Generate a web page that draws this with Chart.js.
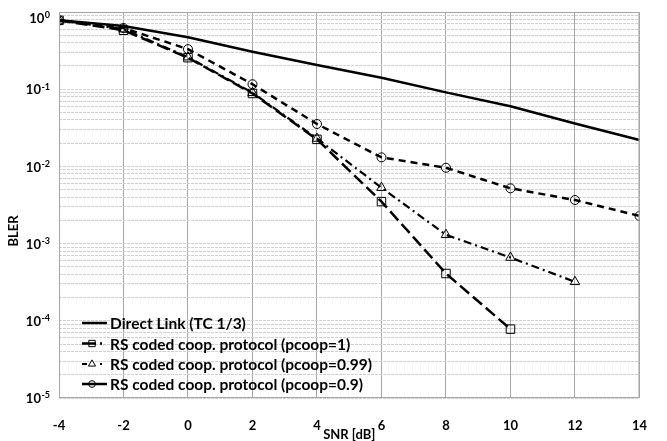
<!DOCTYPE html>
<html>
<head>
<meta charset="utf-8">
<script src="https://cdn.jsdelivr.net/npm/chart.js@4"></script>
<style>
  html, body { margin: 0; padding: 0; background: #fff; }
  #wrap { width: 667px; height: 441px; }
</style>
</head>
<body>
<div id="wrap"><canvas id="c" width="667" height="441"></canvas></div>
<script>
// ===== Data =====
const snr = [-4, -2, 0, 2, 4, 6, 8, 10, 12, 14];
const directLink = [0.78, 0.66, 0.47, 0.306, 0.206, 0.141, 0.091, 0.060, 0.036, 0.022];
const pcoop1     = [0.78, 0.58, 0.256, 0.088, 0.0224, 0.0035, 0.00041, 0.000078];
const pcoop099   = [0.78, 0.60, 0.26, 0.09, 0.023, 0.0053, 0.0013, 0.00066, 0.00032];
const pcoop09    = [0.78, 0.62, 0.33, 0.116, 0.0354, 0.0131, 0.0096, 0.0052, 0.00367, 0.00228];

const seriesLabels = [
  "Direct Link (TC 1/3)",
  "RS coded coop. protocol (pcoop=1)",
  "RS coded coop. protocol (pcoop=0.99)",
  "RS coded coop. protocol (pcoop=0.9)"
];
const xTicks = [-4, -2, 0, 2, 4, 6, 8, 10, 12, 14];
const yDecades = [0, -1, -2, -3, -4, -5];   // 10^0 ... 10^-5
const xTitle = "SNR [dB]";
const yTitle = "BLER";

const FONT = "Lato, 'Open Sans', sans-serif";

function pts(ys) {
  return ys.map((y, i) => ({ x: snr[i], y: y }));
}

// all log ticks 1..9 x 10^k for grid lines
const yAllTicks = [];
for (let e = -5; e <= 0; e++) {
  for (let m = 1; m <= 9; m++) {
    const v = m * Math.pow(10, e);
    if (v <= 1.0000001) yAllTicks.push({ value: v });
  }
}

const transparent = "rgba(0,0,0,0)";

// ===== plugin: frame, y tick labels, axis titles, inner legend =====
const decor = {
  id: "decor",
  afterDraw(chart) {
    const ctx = chart.ctx;
    const a = chart.chartArea;
    const ys = chart.scales.y;
    ctx.save();

    // frame
    ctx.strokeStyle = "#a6a6a6";
    ctx.lineWidth = 1;
    ctx.strokeRect(a.left + 0.5, a.top + 0.5, a.right - a.left - 1, a.bottom - a.top - 1);

    // y tick labels 10^k
    ctx.fillStyle = "#000";
    ctx.textBaseline = "middle";
    for (const e of yDecades) {
      let py = ys.getPixelForValue(Math.pow(10, e));
      if (e === 0) py += 6;   // top label sits a bit lower, like the original
      const exp = String(e);
      ctx.font = "bold 9px " + FONT;
      const ew = ctx.measureText(exp).width;
      ctx.font = "bold 13px " + FONT;
      const bw = ctx.measureText("10").width;
      const right = a.left - 9;
      ctx.textAlign = "left";
      ctx.fillText("10", right - ew - bw - 0.5, py + 1);
      ctx.font = "bold 9px " + FONT;
      ctx.fillText(exp, right - ew, py - 2.5);
    }

    // axis titles
    ctx.font = "bold 13px " + FONT;
    ctx.textAlign = "center";
    ctx.fillText(xTitle, (a.left + a.right) / 2, 435);
    ctx.save();
    ctx.translate(14, 231);
    ctx.rotate(-Math.PI / 2);
    ctx.font = "bold 13px " + FONT;
    ctx.fillText(yTitle, 0, 0);
    ctx.restore();

    // legend inside plot
    const x0 = 82, x1 = 107, xt = 110;
    const rows = [323, 343.5, 364, 384];
    chart.data.datasets.forEach((ds, i) => {
      const y = rows[i];
      ctx.strokeStyle = "#000";
      ctx.lineWidth = ds.borderWidth;
      ctx.setLineDash(ds.legendDash || []);
      ctx.beginPath();
      ctx.moveTo(x0, y);
      ctx.lineTo(x1, y);
      ctx.stroke();
      ctx.setLineDash([]);
      if (ds.pointRadius > 0) {
        ctx.fillStyle = transparent;
        ctx.strokeStyle = "#000";
        ctx.lineWidth = 1;
        Chart.helpers.drawPoint(ctx, {
          pointStyle: ds.pointStyle,
          rotation: 0,
          radius: ds.pointRadius * 0.75,
          borderWidth: 1
        }, 92, y);
      }
      ctx.fillStyle = "#000";
      ctx.font = "bold 15.5px " + FONT;
      ctx.textAlign = "left";
      ctx.textBaseline = "middle";
      ctx.fillText(ds.label, xt, y + 1);
    });

    ctx.restore();
  }
};

new Chart(document.getElementById("c").getContext("2d"), {
  type: "line",
  data: {
    datasets: [
      {
        label: seriesLabels[0], data: pts(directLink),
        borderColor: "#000", borderWidth: 2.5, pointRadius: 0,
        legendDash: []
      },
      {
        label: seriesLabels[1], data: pts(pcoop1),
        borderColor: "#000", borderWidth: 2.5, borderDash: [12, 5],
        pointStyle: "rect", pointRadius: 6, pointBorderWidth: 1,
        pointBorderColor: "#000", pointBackgroundColor: transparent,
        legendDash: [14, 4, 2, 10]
      },
      {
        label: seriesLabels[2], data: pts(pcoop099),
        borderColor: "#000", borderWidth: 2.2, borderDash: [8, 4, 2, 4],
        pointStyle: "triangle", pointRadius: 5.5, pointBorderWidth: 1,
        pointBorderColor: "#000", pointBackgroundColor: transparent,
        legendDash: [5, 13, 2, 10]
      },
      {
        label: seriesLabels[3], data: pts(pcoop09),
        borderColor: "#000", borderWidth: 2.5, borderDash: [7, 5],
        pointStyle: "circle", pointRadius: 4.5, pointBorderWidth: 1,
        pointBorderColor: "#000", pointBackgroundColor: transparent,
        legendDash: []
      }
    ]
  },
  options: {
    responsive: false,
    animation: false,
    tension: 0,
    layout: { padding: { top: 12, right: 8, left: 0, bottom: 0 } },
    plugins: { legend: { display: false }, tooltip: { enabled: false } },
    scales: {
      x: {
        type: "linear", min: -4, max: 14,
        afterBuildTicks: (s) => { s.ticks = xTicks.map(v => ({ value: v })); },
        afterFit: (s) => { s.height = 43; },
        grid: { color: "#a6a6a6", lineWidth: 1, drawTicks: false },
        border: { display: false },
        ticks: {
          color: "#000", padding: 20, maxRotation: 0, autoSkip: false,
          font: { family: FONT, size: 13, weight: "bold" }
        }
      },
      y: {
        type: "logarithmic", min: 1e-5, max: 1,
        afterBuildTicks: (s) => { s.ticks = yAllTicks.map(t => ({ value: t.value })); },
        afterFit: (s) => { s.width = 59; },
        grid: { color: "#cfcfcf", lineWidth: 1, drawTicks: false },
        border: { display: false, dash: [3, 1] },
        ticks: { display: true, autoSkip: false, callback: () => "", padding: 0 }
      }
    }
  },
  plugins: [decor]
});
</script>
</body>
</html>
